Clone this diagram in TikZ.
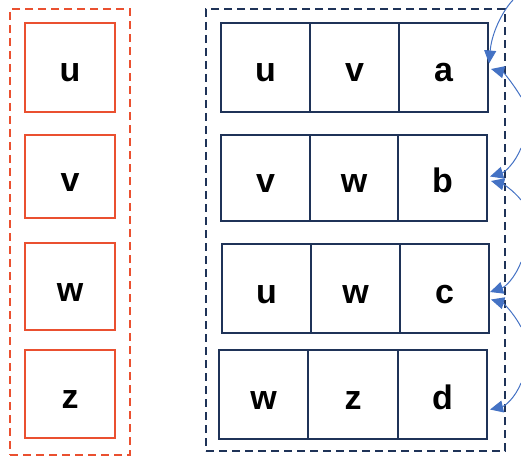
\documentclass[tikz,border=0pt]{standalone}
\usepackage{fontspec}
\setmainfont{Liberation Sans}
\usetikzlibrary{arrows.meta,calc}
\definecolor{oran}{HTML}{EA5030}
\definecolor{navy}{HTML}{1F3358}
\definecolor{arr}{HTML}{4472C4}
\tikzset{
  ocell/.style={draw=oran, line width=2.1pt, minimum width=90pt, inner sep=0pt,
    font=\fontsize{34}{34}\selectfont\bfseries, text height=29pt, text depth=0pt},
  ncell/.style={draw=navy, line width=2.1pt, inner sep=0pt,
    font=\fontsize{34}{34}\selectfont\bfseries, text height=29pt, text depth=0pt},
  oframe/.style={draw=oran, line width=2.3pt, dash pattern=on 8pt off 5pt, inner sep=0pt},
  nframe/.style={draw=navy, line width=2.3pt, dash pattern=on 8pt off 5pt, inner sep=0pt},
  link/.style={draw=arr, line width=1pt, -{Triangle[length=13pt,width=12pt]}}
}
\begin{document}
\begin{tikzpicture}[x=1pt,y=-1pt]
\useasboundingbox (0,0) rectangle (521,457);
% frames
\node[oframe, minimum width=120pt, minimum height=446pt] (lf) at (70,232) {};
\node[nframe, minimum width=299pt, minimum height=442pt] (rf) at (355.5,230) {};
% left boxes
\node[ocell, minimum height=89pt] (lu) at (70,67.5) {u};
\node[ocell, minimum height=83pt] (lv) at (70,176.5) {v};
\node[ocell, minimum height=87pt] (lw) at (70,286.5) {w};
\node[ocell, minimum height=88pt] (lz) at (70,394) {z};
% row 1
\node[ncell, minimum width=89pt, minimum height=89pt] (r1a) at (265.5,67.5) {u};
\node[ncell, minimum width=89pt, minimum height=89pt] (r1b) at (354.5,67.5) {v};
\node[ncell, minimum width=89pt, minimum height=89pt] (r1c) at (443.5,67.5) {a};
% row 2
\node[ncell, minimum width=89pt, minimum height=86pt] (r2a) at (265.5,178) {v};
\node[ncell, minimum width=88pt, minimum height=86pt] (r2b) at (354,178) {w};
\node[ncell, minimum width=89pt, minimum height=86pt] (r2c) at (442.5,178) {b};
% row 3
\node[ncell, minimum width=89pt, minimum height=89pt] (r3a) at (266.5,288.5) {u};
\node[ncell, minimum width=89pt, minimum height=89pt] (r3b) at (355.5,288.5) {w};
\node[ncell, minimum width=89pt, minimum height=89pt] (r3c) at (444.5,288.5) {c};
% row 4
\node[ncell, minimum width=89pt, minimum height=89pt] (r4a) at (263.5,394.5) {w};
\node[ncell, minimum width=90pt, minimum height=89pt] (r4b) at (353,394.5) {z};
\node[ncell, minimum width=89pt, minimum height=89pt] (r4c) at (442.5,394.5) {d};
% arrow start points
\coordinate (s1) at (513,0);
\coordinate (s2) at (521,97);
\coordinate (s3) at (521,148);
\coordinate (s4) at (521,200);
\coordinate (s5) at (521,262);
\coordinate (s6) at (521,327);
\coordinate (s7) at (521,383);
% arrows
\draw[link] (s1) .. controls (505,8) and (492,30) .. ($(r1c.east)+(0,-4)$);
\draw[link] (s2) .. controls (512,82) and (503,72) .. ($(r1c.east)+(2,1.5)$);
\draw[link] (s3) .. controls (515,163) and (505,172) .. ($(r2c.east)+(2,-1.5)$);
\draw[link] (s4) .. controls (513,190) and (503,184) .. ($(r2c.east)+(3,3)$);
\draw[link] (s5) .. controls (515,278) and (505,287) .. ($(r3c.east)+(0,3.5)$);
\draw[link] (s6) .. controls (513,312) and (503,303) .. ($(r3c.east)+(1,11)$);
\draw[link] (s7) .. controls (515,398) and (505,406) .. ($(r4c.east)+(2,15)$);
\end{tikzpicture}
\end{document}
